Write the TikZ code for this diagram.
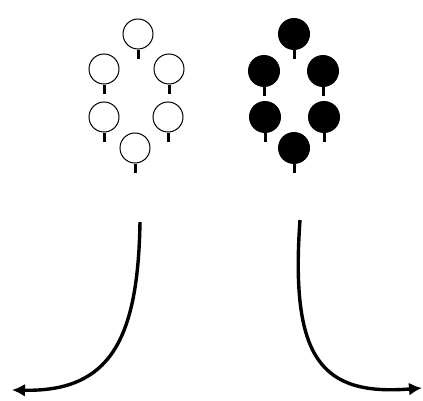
\documentclass[tikz,border=0pt]{standalone}
\usepackage{tikz}
\usetikzlibrary{arrows.meta}

\tikzset{
  crown/.style={draw=black, line width=1pt, fill=white},
  darkcrown/.style={fill=black},
  trunk/.style={fill=black},
  curvearrow/.style={line width=3.4pt, -{Latex[length=13pt,width=13pt]}}
}

\begin{document}
\begin{tikzpicture}[x=1pt,y=-1pt]
            \useasboundingbox (0,0) rectangle (423,401);

            % white trees
            \foreach \x/\y in {138/34, 104/69, 169/69, 104/117, 168/117, 135/148} {
                \path[trunk] (\x-1.5,\y+16) rectangle (\x+1.5,\y+25);
                \draw[crown] (\x,\y) circle (15);
            }

            % black trees
            \foreach \x/\y in {294/34, 264/71, 323/71, 265/117, 324/117, 294/148} {
                \path[trunk] (\x-1.5,\y+14) rectangle (\x+1.5,\y+25);
                \path[darkcrown] (\x,\y) circle (16);
            }

            \coordinate (leftstart) at (140,222);
            \coordinate (leftend) at (12,390);
            \coordinate (rightstart) at (300,220);
            \coordinate (rightend) at (422,388);

            \draw[curvearrow] (leftstart) .. controls (138,340) and (110,392) .. (leftend);
            \draw[curvearrow] (rightstart) .. controls (290,360) and (322,396) .. (rightend);

        \end{tikzpicture}
\end{document}
